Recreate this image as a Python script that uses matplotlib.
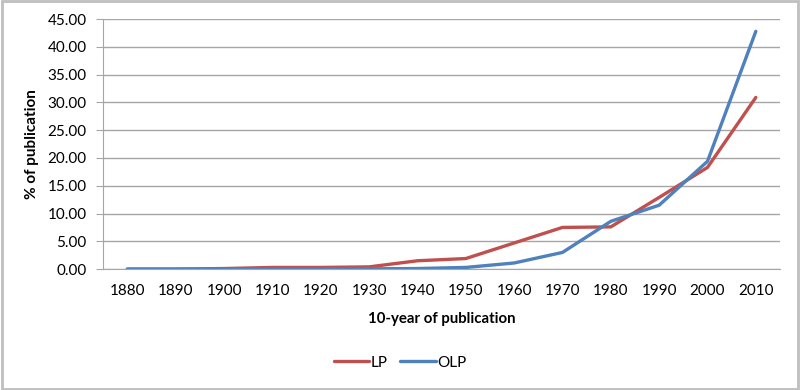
import matplotlib.pyplot as plt
from matplotlib.patches import Rectangle

plt.rcParams['font.family'] = ['Lato', 'DejaVu Sans']

decades = ['1880', '1890', '1900', '1910', '1920', '1930', '1940',
           '1950', '1960', '1970', '1980', '1990', '2000', '2010']
lp = [0.0, 0.0, 0.1, 0.3, 0.3, 0.4, 1.5, 1.9, 4.7, 7.5, 7.6, 12.9, 18.3, 30.9]
olp = [0.0, 0.0, 0.0, 0.0, 0.0, 0.05, 0.1, 0.3, 1.1, 3.0, 8.6, 11.5, 19.4, 42.8]

fig = plt.figure(figsize=(8, 3.9), dpi=100)
ax = fig.add_axes([0.129, 0.310, 0.846, 0.641])

x = range(len(decades))
ax.plot(x, lp, color='#C0504D', lw=2.4, label='LP', solid_capstyle='round')
ax.plot(x, olp, color='#4F81BD', lw=2.4, label='OLP', solid_capstyle='round')

ax.set_xlim(-0.5, len(decades) - 0.5)
ax.set_ylim(0, 45)
ax.set_yticks(range(0, 46, 5))
ax.set_yticklabels([f'{v:.2f}' for v in range(0, 46, 5)])
ax.set_xticks(list(x))
ax.set_xticklabels(decades)

ax.grid(axis='y', color='#A6A6A6', lw=1)
ax.set_axisbelow(True)
for s in ['top', 'right']:
    ax.spines[s].set_visible(False)
for s in ['left', 'bottom']:
    ax.spines[s].set_color('#A6A6A6')
ax.tick_params(axis='y', length=5, color='#A6A6A6', labelsize=11, pad=7)
ax.tick_params(axis='x', length=0, labelsize=11, pad=11)

ax.set_xlabel('10-year of publication', fontsize=10.8, fontweight='bold', labelpad=10)
ax.set_ylabel('% of publication', fontsize=11, fontweight='bold', labelpad=6)

fig.legend(loc='center', bbox_to_anchor=(0.5, 0.07), ncol=2, frameon=False,
           fontsize=11, handlelength=2.3, columnspacing=0.85, handletextpad=0.1)

fig.patches.append(Rectangle((0.002, 0.003), 0.996, 0.994, transform=fig.transFigure,
                             fill=False, edgecolor='#BFBFBF', lw=2))

fig.savefig('out.png', dpi=100)
